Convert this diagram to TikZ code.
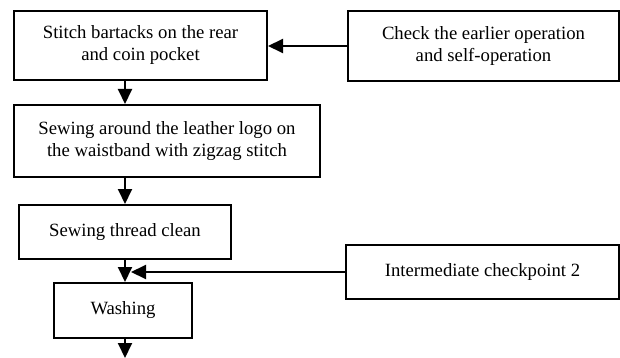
\documentclass[tikz,border=0pt]{standalone}
\usepackage{fontspec}
\setmainfont{Liberation Serif}
\usetikzlibrary{arrows.meta}

\begin{document}
\begin{tikzpicture}[x=1pt,y=-1pt] % one unit is one point, y grows downwards
\tikzset{every node/.style={font=\fontsize{18.7}{22}\selectfont}} % text of all boxes
\tikzset{stage/.style={draw, rectangle, line width=2pt, align=center, inner sep=0pt}} % process boxes
\tikzset{flow/.style={line width=2pt, -{Triangle[length=15pt,width=14pt]}}} % connectors
\useasboundingbox (0,0) rectangle (620,358);

% main line of operations
\node[stage, minimum width=253pt, minimum height=69pt] (bartack) at (140.5,45.5) {Stitch bartacks on the rear\\and coin pocket};
\node[stage, minimum width=306pt, minimum height=72pt] (logo) at (167,141) {Sewing around the leather logo on\\the waistband with zigzag stitch};
\node[stage, minimum width=212pt, minimum height=54pt] (clean) at (125,232) {Sewing thread clean};
\node[stage, minimum width=138pt, minimum height=55pt] (wash) at (123,310.5) {Washing};

% checks feeding in from the right
\node[stage, minimum width=271pt, minimum height=70pt] (check) at (483.5,46) {Check the earlier operation\\and self-operation};
\node[stage, minimum width=273pt, minimum height=54pt] (midcheck) at (482.5,272) {Intermediate checkpoint 2};

\coordinate (join) at (131,272);
\coordinate (next) at (125,358);

\draw[flow] (bartack.south -| clean.center) -- (logo.north -| clean.center);
\draw[flow] (logo.south -| clean.center) -- (clean.south |- clean.north);
\draw[flow] (clean.south) -- (wash.north -| clean.south);
\draw[flow] (wash.south -| next) -- (next);
\draw[flow] (check.west) -- (bartack.east |- check.west);
\draw[flow] (midcheck.west) -- (join);
\end{tikzpicture}
\end{document}
